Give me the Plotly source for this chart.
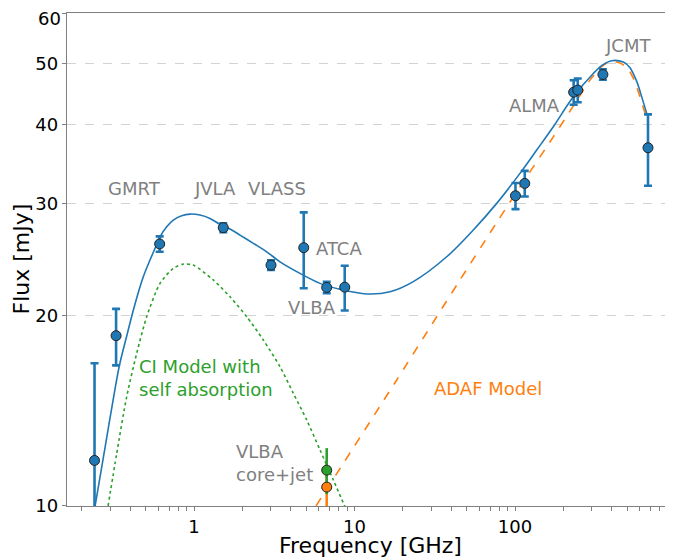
import plotly.graph_objects as go

# ---------------- data ----------------
obs_freq = [0.24, 0.327, 0.611, 1.522, 3.018, 4.827, 6.712, 8.69,
            100.7, 115.0, 232.0, 246.0, 353.0, 674.0]
obs_flux = [11.8, 18.57, 25.92, 27.5, 24.0, 25.57, 22.13, 22.15,
            30.88, 32.3, 45.0, 45.34, 47.99, 36.77]
obs_err = [5.0, 1.9, 0.72, 0.45, 0.42, 3.5, 0.45, 1.8,
           1.46, 1.5, 2.0, 1.95, 0.9, 4.75]

fit_freq = [0.2415, 0.2797, 0.316, 0.3424, 0.3808, 0.429, 0.4831, 0.5319, 0.5715,
            0.6139, 0.6759, 0.743, 0.8383, 0.9443, 1.09, 1.258, 1.452, 1.676,
            1.935, 2.342, 2.838, 3.434, 4.575, 6.095, 8.122,
            11.91, 16.64, 23.25, 37.54, 54.99, 76.9, 107.4, 136.5, 173.2, 230.8,
            307.5, 350.0, 400.5, 473.0, 520.6, 573.3, 620.0, 661.7]
fit_flux = [9.97, 12.41, 14.88, 16.63, 18.55, 20.83, 23.0, 24.45, 25.5,
            26.6, 27.59, 28.27, 28.72, 28.89, 28.79, 28.44, 27.83, 27.36,
            26.77, 25.98, 25.19, 24.29, 23.29, 22.46, 21.98,
            21.61, 21.78, 22.6, 24.74, 27.27, 30.04, 33.5, 36.46, 39.69, 44.25,
            48.17, 49.65, 50.46, 50.21, 49.2, 46.8, 44.0, 41.66]

ci_freq = [0.2915, 0.33, 0.3808, 0.4395, 0.5074, 0.6139, 0.743, 0.858, 0.99,
           1.319, 1.676, 2.13, 2.703, 3.434, 4.157, 5.037, 6.095, 7.378, 8.727]
ci_flux = [10.0, 12.11, 14.88, 17.42, 19.9, 22.46, 23.72, 24.09, 24.0,
           22.74, 21.39, 19.9, 18.28, 16.59, 15.06, 13.67, 12.26, 10.99, 9.97]

adaf_freq = [5.755, 18.32, 45.42, 78.7, 107.4, 173.2, 230.8, 293.3, 338.5,
             390.8, 451.1, 500.0, 545.8, 600.8, 664.3]
adaf_flux = [10.0, 15.81, 22.74, 28.27, 31.91, 38.25, 42.8, 47.02, 49.1,
             50.38, 50.02, 49.16, 47.35, 44.25, 40.66]

core_freq = [6.712]
core_ci_flux = [11.39]
core_ci_err = [0.95]
core_adaf_flux = [10.71]
core_adaf_err = [1.0]

y_ticks = [10, 20, 30, 40, 50, 60]
x_major = [1, 10, 100]
x_minor = [0.2, 0.3, 0.4, 0.5, 0.6, 0.7, 0.8, 0.9,
           2, 3, 4, 5, 6, 7, 8, 9, 20, 30, 40, 50, 60, 70, 80, 90,
           200, 300, 400, 500, 600, 700, 800, 900]

# ---------------- styling ----------------
BLUE = "#1f77b4"
ORANGE = "#ff7f0e"
GREEN = "#2ca02c"
GREY = "#808080"
FONT = "DejaVu Sans"

# the page body has an 8px margin, so the figure is shifted by that much
OFF = 8
W, H = 673 - OFF, 559 - OFF
L, R, T, B = 67 - OFF, 0, 13 - OFF, 53
PW, PH = W - L - R, H - T - B


def px(x):
    # window pixel -> paper fraction
    return (x - OFF - L) / PW


def py(y):
    return (H - B - (y - OFF)) / PH


fig = go.Figure()

fig.add_trace(go.Scatter(x=ci_freq, y=ci_flux, mode="lines", line_shape="spline",
                         line=dict(color=GREEN, width=1.6, dash="dot", smoothing=0.7),
                         hoverinfo="skip"))
fig.add_trace(go.Scatter(x=adaf_freq, y=adaf_flux, mode="lines", line_shape="spline",
                         line=dict(color=ORANGE, width=1.6, dash="dash", smoothing=0.7),
                         hoverinfo="skip"))
fig.add_trace(go.Scatter(x=fit_freq, y=fit_flux, mode="lines", line_shape="spline",
                         line=dict(color=BLUE, width=1.6, smoothing=0.9), hoverinfo="skip"))

fig.add_trace(go.Scatter(x=obs_freq, y=obs_flux, mode="markers",
                         marker=dict(color=BLUE, size=10, line=dict(color="#222", width=1)),
                         error_y=dict(type="data", array=obs_err, color=BLUE,
                                      thickness=2.6, width=4)))

# VLBA core+jet decomposition
fig.add_trace(go.Scatter(x=core_freq, y=core_adaf_flux, mode="markers",
                         marker=dict(color="rgba(0,0,0,0)", size=1),
                         error_y=dict(type="data", array=core_adaf_err, color=ORANGE,
                                      thickness=2.6, width=0)))
fig.add_trace(go.Scatter(x=core_freq, y=core_ci_flux, mode="markers",
                         marker=dict(color=GREEN, size=10, line=dict(color="#222", width=1)),
                         error_y=dict(type="data", array=core_ci_err, color=GREEN,
                                      thickness=2.6, width=0)))
fig.add_trace(go.Scatter(x=core_freq, y=core_adaf_flux, mode="markers",
                         marker=dict(color=ORANGE, size=10, line=dict(color="#222", width=1))))

# text labels
labels = [
    ("GMRT", 134, 188, GREY),
    ("JVLA", 215, 188, GREY),
    ("VLASS", 276.5, 188, GREY),
    ("ATCA", 338.5, 248, GREY),
    ("VLBA", 312, 307, GREY),
    ("ALMA", 534, 105, GREY),
    ("JCMT", 628, 46, GREY),
    ("ADAF Model", 488.5, 388, ORANGE),
]
for txt, x, y, c in labels:
    fig.add_annotation(text=txt, xref="paper", yref="paper", x=px(x), y=py(y),
                       xanchor="center", yanchor="middle", showarrow=False,
                       font=dict(family=FONT, size=18, color=c))

fig.add_annotation(text="CI Model with<br>self absorption", xref="paper", yref="paper",
                   x=px(137), y=py(377.5), xanchor="left", yanchor="middle", align="left",
                   showarrow=False, font=dict(family=FONT, size=18, color=GREEN))
fig.add_annotation(text="VLBA<br>core+jet", xref="paper", yref="paper",
                   x=px(234), y=py(463.5), xanchor="left", yanchor="middle", align="left",
                   showarrow=False, font=dict(family=FONT, size=18, color=GREY))

# axis titles
fig.add_annotation(text="Frequency [GHz]", xref="paper", yref="paper",
                   x=px(370.5), y=py(545.5), xanchor="center", yanchor="middle",
                   showarrow=False, font=dict(family=FONT, size=22, color="black"))
fig.add_annotation(text="Flux [mJy]", xref="paper", yref="paper", textangle=-90,
                   x=px(21), y=py(259.5), xanchor="center", yanchor="middle",
                   showarrow=False, font=dict(family=FONT, size=22, color="black"))

# top y tick label sits at the very top edge of the page; draw it slightly lower
ytext = [str(v) for v in y_ticks]
top_label = ytext[-1]
ytext[-1] = ""
fig.add_annotation(text=top_label, xref="paper", yref="paper",
                   x=px(63), y=py(19), xanchor="right", yanchor="middle",
                   showarrow=False, font=dict(family=FONT, size=18, color="black"))

tickvals = x_major + x_minor
ticktext = [str(v) for v in x_major] + [""] * len(x_minor)

fig.update_layout(
    width=W, height=H,
    margin=dict(l=L, r=R, t=T, b=B, pad=0, autoexpand=False),
    paper_bgcolor="white", plot_bgcolor="white",
    showlegend=False,
    font=dict(family=FONT, color="black"),
    xaxis=dict(type="log", range=[-0.7913, 2.9844], automargin=False,
               tickvals=tickvals, ticktext=ticktext,
               ticks="outside", ticklen=4, tickcolor=GREY, tickwidth=1,
               showline=True, linecolor=GREY, linewidth=1.3, mirror=True,
               showgrid=False, zeroline=False,
               tickfont=dict(family=FONT, size=18, color="black")),
    yaxis=dict(type="log", range=[0.99995, 1.77822], automargin=False,
               tickvals=y_ticks, ticktext=ytext,
               ticks="outside", ticklen=4, tickcolor=GREY, tickwidth=1,
               showline=True, linecolor=GREY, linewidth=1.3,
               showgrid=True, gridcolor="#d3d3d3", griddash="dash", gridwidth=1,
               zeroline=False,
               tickfont=dict(family=FONT, size=18, color="black")),
)

fig.write_html("out.html")
